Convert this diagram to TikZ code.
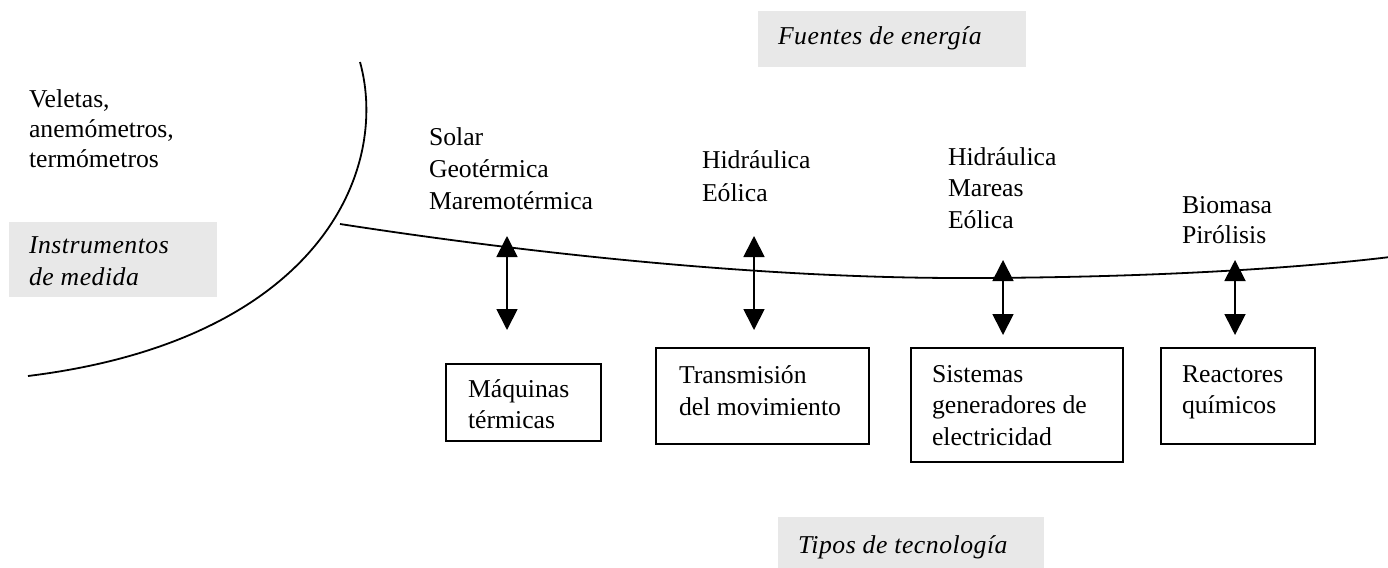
\documentclass[tikz,border=0pt]{standalone}
\usepackage{fontspec}
\setmainfont{Liberation Serif}
\usetikzlibrary{arrows.meta}
\definecolor{lblgray}{RGB}{232,232,232}
\newcommand\mlines[1]{\begin{tabular}[t]{@{}l@{}}#1\end{tabular}}
\begin{document}
\begin{tikzpicture}[x=1pt,y=-1pt,
  every node/.style={inner sep=0pt, outer sep=0pt, font=\fontsize{25.7}{31.5}\selectfont},
  txt/.style={anchor=base west},
  itxt/.style={anchor=base west, font=\fontsize{25.7}{32}\selectfont\itshape\addfontfeatures{LetterSpace=2}},
  graybox/.style={fill=lblgray, anchor=north west},
  techbox/.style={draw, line width=1.6pt, anchor=north west},
  curve/.style={line width=1.8pt},
  dbl/.style={line width=1.8pt, {Triangle[width=21pt,length=21pt]}-{Triangle[width=21pt,length=21pt]}}]
\useasboundingbox (0,0) rectangle (1388,567);

% gray label boxes
\node[graybox, minimum width=208pt, minimum height=75pt] (gInst) at (9,222) {};
\node[itxt] (tInst) at (29,253) {\mlines{Instrumentos\\de medida}};
\node[graybox, minimum width=268pt, minimum height=56pt] (gFuen) at (758,11) {};
\node[itxt] (tFuen) at (778,45) {Fuentes de energía};
\node[graybox, minimum width=266pt, minimum height=52pt] (gTipo) at (778,517) {};
\node[itxt] (tTipo) at (798,553) {Tipos de tecnología};

% curves
\draw[curve] (360,62) .. controls (390,170) and (320,340) .. (28,376);
\draw[curve] (340,224) .. controls (560,258) and (780,278) .. (960,278)
             .. controls (1150,278) and (1300,268) .. (1390,257);

% left text
\node[txt, font=\fontsize{25.7}{30}\selectfont] (tVel) at (29,107) {\mlines{Veletas,\\anemómetros,\\termómetros}};

% energy sources
\node[txt] (s1) at (429,146) {\mlines{Solar\\Geotérmica\\Maremotérmica}};
\node[txt, font=\fontsize{25.7}{33}\selectfont] (s2) at (702,168) {\mlines{Hidráulica\\Eólica}};
\node[txt] (s3) at (948,165) {\mlines{Hidráulica\\Mareas\\Eólica}};
\node[txt, font=\fontsize{25.7}{30}\selectfont] (s4) at (1182,213) {\mlines{Biomasa\\Pirólisis}};

% technology boxes
\node[techbox, minimum width=155pt, minimum height=77pt] (b1) at (446,364) {};
\node[techbox, minimum width=213pt, minimum height=96pt] (b2) at (656,348) {};
\node[techbox, minimum width=212pt, minimum height=114pt] (b3) at (911,348) {};
\node[techbox, minimum width=154pt, minimum height=96pt] (b4) at (1161,348) {};
\node[txt] (t1) at (468,397) {\mlines{Máquinas\\térmicas}};
\node[txt, font=\fontsize{25.7}{32}\selectfont] (t2) at (679,383) {\mlines{Transmisión\\del movimiento}};
\node[txt] (t3) at (932,382) {\mlines{Sistemas\\generadores de\\electricidad}};
\node[txt] (t4) at (1182,382) {\mlines{Reactores\\químicos}};

% arrows
\coordinate (a1t) at (507,236); \coordinate (a1b) at (507,330);
\coordinate (a2t) at (754,236); \coordinate (a2b) at (754,330);
\coordinate (a3t) at (1003,260); \coordinate (a3b) at (1003,335);
\coordinate (a4t) at (1235,260); \coordinate (a4b) at (1235,335);
\draw[dbl] (a1t) -- (a1b);
\draw[dbl] (a2t) -- (a2b);
\draw[dbl] (a3t) -- (a3b);
\draw[dbl] (a4t) -- (a4b);
\end{tikzpicture}
\end{document}
